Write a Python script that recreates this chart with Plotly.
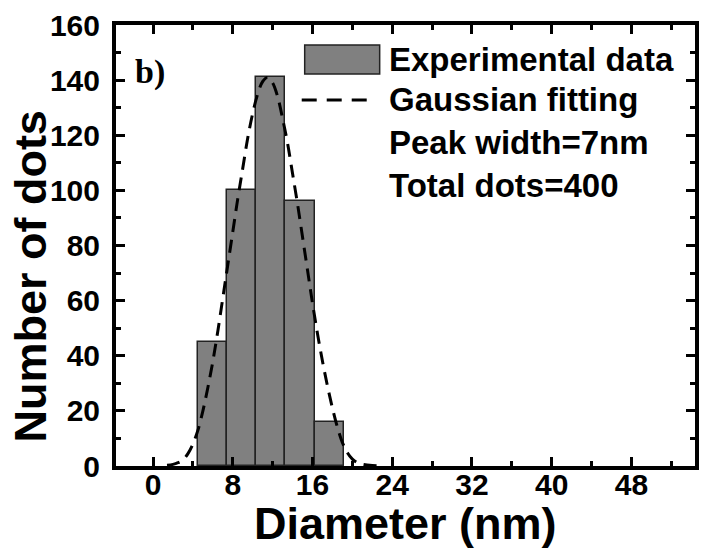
import plotly.graph_objects as go

# Histogram of dot diameters (bin centres in nm, counts per bin)
bin_centers = [5.93, 8.87, 11.8, 14.73, 17.67]
bin_width = 2.94
counts = [45, 100, 141, 96, 16]

# Gaussian fit curve sampled along the diameter axis
fit_x = [1.4, 2.0, 2.5, 3.0, 3.5, 4.0, 4.5, 5.0, 5.5, 6.0, 6.5, 7.0, 7.5, 8.0,
         8.5, 9.0, 9.5, 10.0, 10.5, 11.0, 11.5, 12.0, 12.5, 13.0, 13.5, 14.0,
         14.5, 15.0, 15.5, 16.0, 16.5, 17.0, 17.5, 18.0, 18.5, 19.0, 19.5,
         20.0, 20.5, 21.0, 22.0, 23.0]
fit_y = [0.3, 0.6, 1.2, 2.2, 4.5, 8.0, 13.0, 20.0, 28.5, 38.0, 49.0, 61.0,
         73.0, 85.0, 97.0, 108.0, 119.0, 128.0, 135.0, 139.5, 141.0, 139.0,
         134.0, 126.0, 117.0, 106.0, 95.0, 83.0, 71.0, 59.0, 48.0, 38.0, 29.0,
         21.0, 14.0, 8.5, 4.8, 2.5, 1.2, 0.6, 0.2, 0.1]

x_ticks = [0, 8, 16, 24, 32, 40, 48]
y_ticks = [0, 20, 40, 60, 80, 100, 120, 140, 160]

legend_lines = ["Experimental data", "Gaussian fitting", "Peak width=7nm", "Total dots=400"]

W, H = 701, 551
ML, MR, MT, MB = 116, 2, 25, 85
PW, PH = W - ML - MR, H - MT - MB


def px(xp):
    return (xp - ML) / PW


def py(yp):
    return (H - MB - yp) / PH


SANS = "Liberation Sans, Arial, sans-serif"
SERIF = "Liberation Serif, Times New Roman, serif"

fig = go.Figure()
fig.add_trace(go.Bar(
    x=bin_centers, y=counts, width=bin_width,
    marker=dict(color="#808080", line=dict(color="#222222", width=1.5)),
    showlegend=False,
))
fig.add_trace(go.Scatter(
    x=fit_x, y=fit_y, mode="lines",
    line=dict(color="black", width=3, dash="13px,8px", shape="spline"),
    showlegend=False,
))

axis_common = dict(
    showline=True, linecolor="black", linewidth=4, mirror="allticks",
    ticks="inside", ticklen=9, tickwidth=3, tickcolor="black",
    showgrid=False, zeroline=False,
    tickfont=dict(family=SANS, size=30, color="black", weight="bold"),
)

fig.update_xaxes(
    range=[-3.72, 54.38], tickmode="array", tickvals=x_ticks,
    ticktext=[str(v) for v in x_ticks],
    minor=dict(dtick=4, tick0=0, ticks="inside", ticklen=5, tickwidth=3,
               tickcolor="black", showgrid=False),
    ticklabelstandoff=-11,
    **axis_common,
)
fig.update_yaxes(
    range=[0, 160], tickmode="array", tickvals=y_ticks,
    ticktext=[str(v) for v in y_ticks],
    minor=dict(dtick=10, tick0=0, ticks="inside", ticklen=5, tickwidth=3,
               tickcolor="black", showgrid=False),
    ticklabelstandoff=6,
    **axis_common,
)

annotations = [
    dict(text="<b>Diameter (nm)</b>", x=px(408), y=py(523), xref="paper", yref="paper",
         xanchor="center", yanchor="middle", showarrow=False,
         font=dict(family=SANS, size=45, color="black")),
    dict(text="<b>Number of dots</b>", x=px(29), y=py(276), xref="paper", yref="paper",
         xanchor="center", yanchor="middle", showarrow=False, textangle=-90,
         font=dict(family=SANS, size=45, color="black")),
    dict(text="<b>b)</b>", x=px(133), y=py(72), xref="paper", yref="paper",
         xanchor="left", yanchor="middle", showarrow=False,
         font=dict(family=SERIF, size=34, color="black")),
]
legend_y = [59, 100, 142, 185]
for label, yc in zip(legend_lines, legend_y):
    annotations.append(dict(
        text="<b>%s</b>" % label, x=px(389), y=py(yc), xref="paper", yref="paper",
        xanchor="left", yanchor="middle", showarrow=False,
        font=dict(family=SANS, size=33, color="black")))

shapes = [
    dict(type="rect", xref="paper", yref="paper",
         x0=px(306), x1=px(381.5), y0=py(74), y1=py(45),
         fillcolor="#808080", line=dict(color="#222222", width=1.5)),
    dict(type="line", xref="paper", yref="paper",
         x0=px(303), x1=px(373), y0=py(100), y1=py(100),
         line=dict(color="black", width=3, dash="15px,10px")),
]

fig.update_layout(
    width=W, height=H,
    margin=dict(l=ML, r=MR, t=MT, b=MB, pad=0),
    paper_bgcolor="white", plot_bgcolor="white",
    annotations=annotations, shapes=shapes,
    bargap=0,
)

fig.write_html("out.html")
